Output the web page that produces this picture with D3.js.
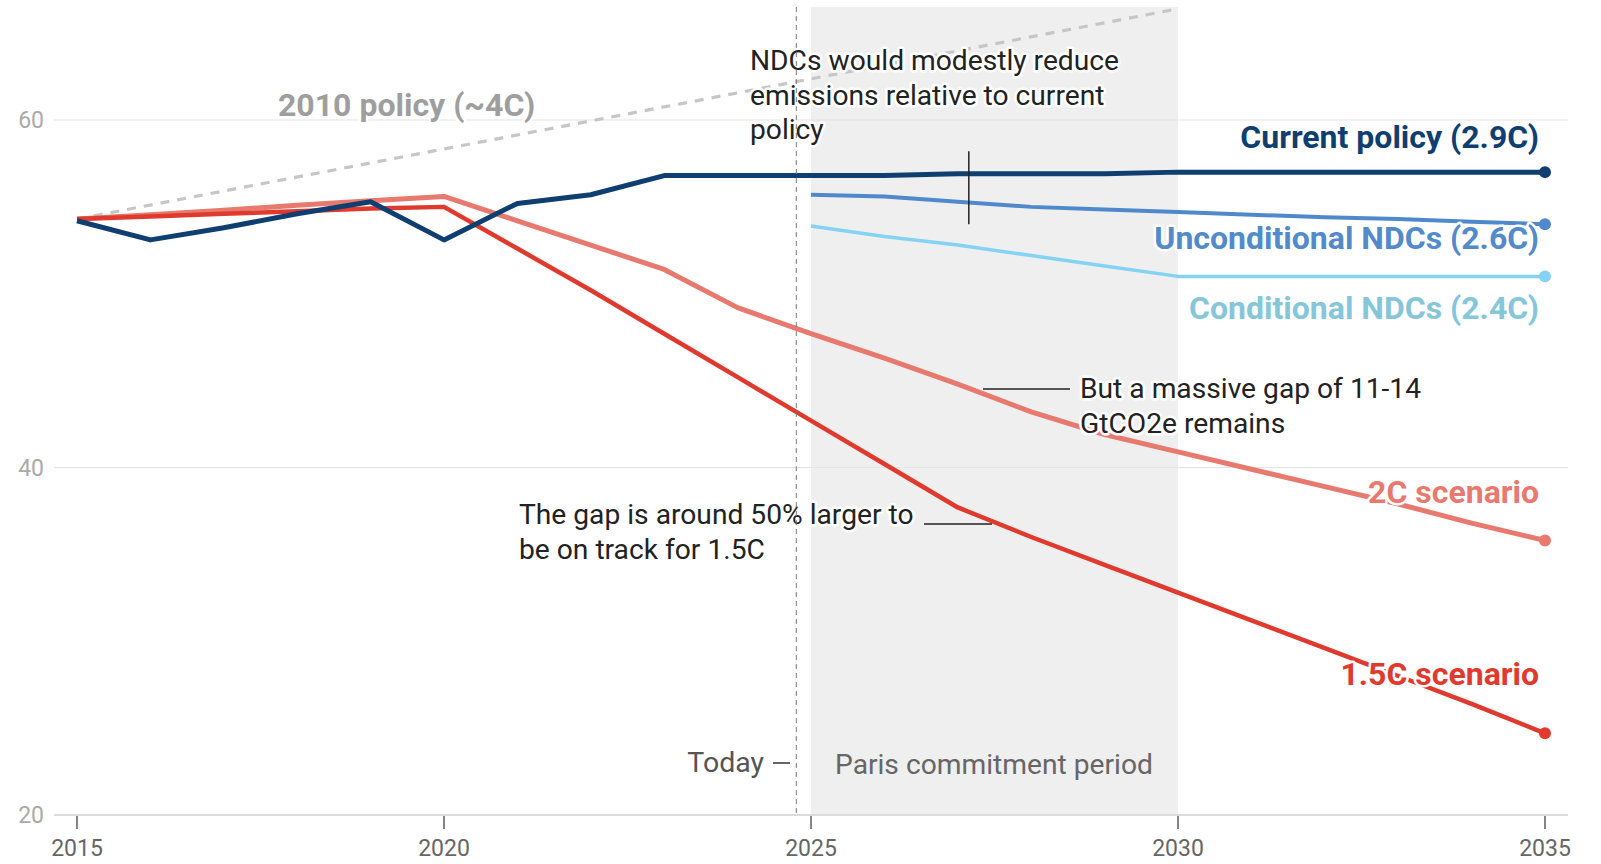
<!DOCTYPE html>
<html>
<head>
<meta charset="utf-8">
<script src="https://cdn.jsdelivr.net/npm/d3@7"></script>
<style>
  body { margin: 0; background: #fff; }
  svg { display: block; font-family: Roboto, "Noto Sans", sans-serif; }
  .halo { paint-order: stroke; stroke: #fff; stroke-width: 5px; stroke-linejoin: round; }
</style>
</head>
<body>
<div id="target"></div>
<script>
var width = 1601,
    height = 864;

// data
var years = [2015, 2016, 2017, 2018, 2019, 2020, 2021, 2022, 2023, 2024, 2025,
             2026, 2027, 2028, 2029, 2030, 2031, 2032, 2033, 2034, 2035];
var currentPolicy = [54.2, 53.1, 53.8, 54.6, 55.3, 53.1, 55.2, 55.7, 56.8, 56.8, 56.8,
                     56.8, 56.9, 56.9, 56.9, 57.0, 57.0, 57.0, 57.0, 57.0, 57.0];
var scenario2C = [54.3, 54.55, 54.8, 55.1, 55.35, 55.6, 54.2, 52.8, 51.4, 49.2, 47.7,
                  46.3, 44.8, 43.2, 41.9, 40.9, 39.9, 38.9, 37.9, 36.8, 35.8];
var scenario15C = [54.3, 54.45, 54.6, 54.75, 54.9, 55.0, 52.6, 50.2, 47.7, 45.2, 42.7,
                   40.2, 37.7, 36.0, 34.4, 32.8, 31.2, 29.6, 28.0, 26.4, 24.7];
var ndcYears = [2025, 2026, 2027, 2028, 2029, 2030, 2031, 2032, 2033, 2034, 2035];
var unconditionalNDC = [55.7, 55.6, 55.3, 55.0, 54.85, 54.7, 54.55, 54.4, 54.3, 54.15, 54.0];
var conditionalNDC = [53.9, 53.3, 52.8, 52.2, 51.6, 51.0, 51.0, 51.0, 51.0, 51.0, 51.0];
var policy2010Years = [2015, 2030];
var policy2010 = [54.3, 66.4];

var yTicks = [20, 40, 60];
var xTicks = [2015, 2020, 2025, 2030, 2035];
var parisPeriod = [2025, 2030];
var today = 2024.8;

var x = d3.scaleLinear().domain([2015, 2035]).range([77, 1545]);
var y = d3.scaleLinear().domain([20, 60]).range([815, 120]);

var svg = d3.select('#target').append('svg')
    .attr('width', width)
    .attr('height', height);

// Paris commitment period shading
svg.append('rect')
    .attr('x', x(parisPeriod[0]))
    .attr('width', x(parisPeriod[1]) - x(parisPeriod[0]))
    .attr('y', y(66.5))
    .attr('height', y(20) - y(66.5))
    .attr('fill', '#efefef');

// gridlines
svg.selectAll('.grid')
    .data(yTicks)
    .enter().append('line')
    .attr('x1', 54).attr('x2', 1568)
    .attr('y1', function(d) { return y(d); })
    .attr('y2', function(d) { return y(d); })
    .attr('stroke', function(d) { return d == 20 ? '#dcdcdc' : '#e4e4e4'; })
    .attr('stroke-width', function(d) { return d == 20 ? 2 : 1.2; });

svg.selectAll('.ylab')
    .data(yTicks)
    .enter().append('text')
    .attr('x', 44)
    .attr('y', function(d) { return y(d); })
    .attr('dy', '0.35em')
    .attr('text-anchor', 'end')
    .attr('font-size', 23)
    .attr('fill', '#aaaaaa')
    .text(function(d) { return d; });

// x axis ticks
svg.selectAll('.xtick')
    .data(xTicks)
    .enter().append('line')
    .attr('x1', function(d) { return x(d); })
    .attr('x2', function(d) { return x(d); })
    .attr('y1', y(20) + 1).attr('y2', y(20) + 14)
    .attr('stroke', '#333').attr('stroke-width', 1.2);

svg.selectAll('.xlab')
    .data(xTicks)
    .enter().append('text')
    .attr('x', function(d) { return x(d); })
    .attr('y', 848)
    .attr('dy', '0.35em')
    .attr('text-anchor', 'middle')
    .attr('font-size', 23)
    .attr('fill', '#666')
    .text(function(d) { return d; });

function series(xs, vs) {
    return xs.map(function(d, i) { return [d, vs[i]]; });
}

var line = d3.line()
    .x(function(d) { return x(d[0]); })
    .y(function(d) { return y(d[1]); });

// 2010 policy dashed line
svg.append('path')
    .datum(series(policy2010Years, policy2010))
    .attr('d', line)
    .attr('fill', 'none')
    .attr('stroke', '#c6c6c6')
    .attr('stroke-width', 3.2)
    .attr('stroke-dasharray', '9,8');

var lines = [
    {name: 'Conditional NDCs (2.4C)', data: series(ndcYears, conditionalNDC), color: '#84d2f4', label: '#86c6d9', w: 3.5, labelY: 308},
    {name: 'Unconditional NDCs (2.6C)', data: series(ndcYears, unconditionalNDC), color: '#4f89cc', label: '#528acb', w: 4, labelY: 238},
    {name: '2C scenario', data: series(years, scenario2C), color: '#e8796f', label: '#e8796f', w: 5, labelY: 492},
    {name: '1.5C scenario', data: series(years, scenario15C), color: '#e03a2e', label: '#e03a2e', w: 4.5, labelY: 674},
    {name: 'Current policy (2.9C)', data: series(years, currentPolicy), color: '#0f3e70', label: '#0f3e70', w: 5, labelY: 137}
];

svg.selectAll('.series')
    .data(lines)
    .enter().append('path')
    .attr('d', function(d) { return line(d.data); })
    .attr('fill', 'none')
    .attr('stroke', function(d) { return d.color; })
    .attr('stroke-width', function(d) { return d.w; })
    .attr('stroke-linejoin', 'round');

svg.selectAll('.enddot')
    .data(lines)
    .enter().append('circle')
    .attr('cx', function(d) { return x(d.data[d.data.length - 1][0]); })
    .attr('cy', function(d) { return y(d.data[d.data.length - 1][1]); })
    .attr('r', 6)
    .attr('fill', function(d) { return d.color; });

// gap marker between current policy and NDCs
svg.append('line')
    .attr('x1', x(2027.15)).attr('x2', x(2027.15))
    .attr('y1', y(58.2)).attr('y2', y(54.0))
    .attr('stroke', '#222').attr('stroke-width', 1.5);

// leader lines
svg.append('line')
    .attr('x1', 983).attr('x2', 1070).attr('y1', 389).attr('y2', 389)
    .attr('stroke', '#222').attr('stroke-width', 1.5);
svg.append('line')
    .attr('x1', 924).attr('x2', 992).attr('y1', 524).attr('y2', 524)
    .attr('stroke', '#222').attr('stroke-width', 1.5);

function multiline(xp, yp, rows, size, color) {
    var t = svg.append('text')
        .attr('class', 'halo')
        .attr('font-size', size)
        .attr('fill', color);
    rows.forEach(function(r, i) {
        t.append('tspan')
            .attr('x', xp)
            .attr('y', yp + i * 34.7)
            .attr('dy', '0.35em')
            .text(r);
    });
}

multiline(750, 60, ['NDCs would modestly reduce', 'emissions relative to current', 'policy'], 28.2, '#222');
multiline(1080, 388, ['But a massive gap of 11-14', 'GtCO2e remains'], 28.2, '#222');
multiline(519, 514, ['The gap is around 50% larger to', 'be on track for 1.5C'], 28.2, '#222');

svg.append('text')
    .attr('class', 'halo')
    .attr('x', 278).attr('y', 105)
    .attr('dy', '0.35em')
    .attr('font-size', 32)
    .attr('font-weight', 'bold')
    .attr('fill', '#9e9e9e')
    .text('2010 policy (~4C)');

// series labels
svg.selectAll('.slab')
    .data(lines)
    .enter().append('text')
    .attr('class', 'halo')
    .attr('x', 1539)
    .attr('y', function(d) { return d.labelY; })
    .attr('dy', '0.35em')
    .attr('text-anchor', 'end')
    .attr('font-size', 32)
    .attr('font-weight', 'bold')
    .attr('fill', function(d) { return d.label; })
    .text(function(d) { return d.name; });

// today marker
svg.append('line')
    .attr('x1', x(today)).attr('x2', x(today))
    .attr('y1', y(66.5)).attr('y2', y(20))
    .attr('stroke', '#777')
    .attr('stroke-width', 1)
    .attr('stroke-dasharray', '5,4');

svg.append('text')
    .attr('x', 764).attr('y', 762)
    .attr('dy', '0.35em')
    .attr('text-anchor', 'end')
    .attr('font-size', 28.5)
    .attr('fill', '#555')
    .text('Today');
svg.append('line')
    .attr('x1', 773).attr('x2', 790).attr('y1', 763).attr('y2', 763)
    .attr('stroke', '#333').attr('stroke-width', 1.5);

svg.append('text')
    .attr('x', 835).attr('y', 764)
    .attr('dy', '0.35em')
    .attr('font-size', 28.2)
    .attr('fill', '#666')
    .text('Paris commitment period');
</script>
</body>
</html>
